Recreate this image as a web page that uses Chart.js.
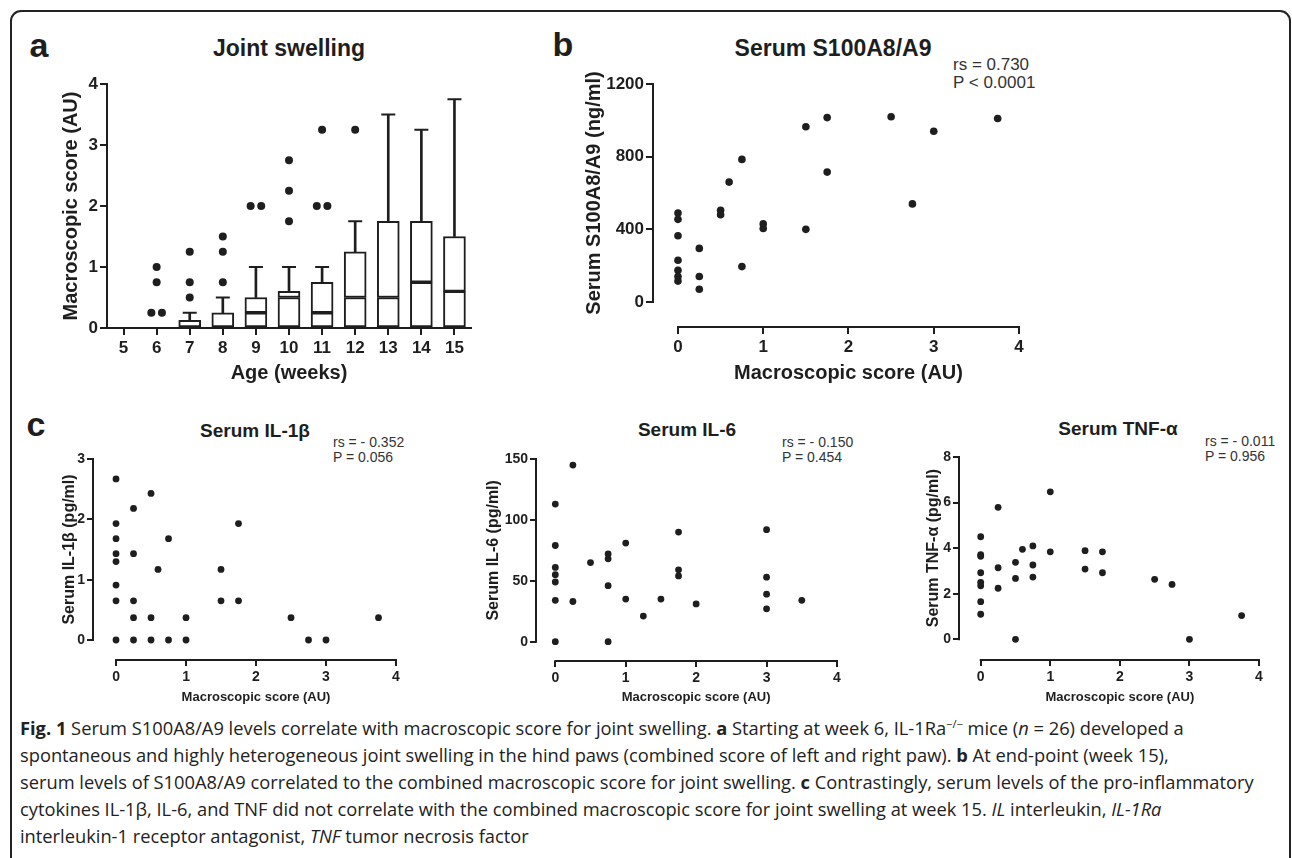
<!DOCTYPE html>
<html><head><meta charset="utf-8">
<script src="https://cdn.jsdelivr.net/npm/chart.js@4.4.0/dist/chart.umd.min.js"></script>
<style>
html,body{margin:0;padding:0;background:#fff;}
body{width:1292px;height:858px;position:relative;overflow:hidden;font-family:"Liberation Sans",Arial,sans-serif;color:#1e1e1e;}
#frame{position:absolute;left:10px;top:10px;width:1281px;height:900px;border:2px solid #222;border-radius:11px;box-sizing:border-box;}
canvas{position:absolute;}
.t{position:absolute;white-space:nowrap;transform:translate(-50%,-50%);font-weight:bold;line-height:1;}
.rs{position:absolute;white-space:nowrap;color:#333;}
.cap{position:absolute;left:20px;font-family:"Open Sans",sans-serif;font-size:18.3px;white-space:nowrap;color:#222;transform:translateY(-50%);line-height:1.2;}
.cap b{font-weight:bold;}
</style></head>
<body>
<div id="frame"></div>

<div class="t" style="left:39px;top:45px;font-size:34px;">a</div>
<div class="t" style="left:563px;top:44px;font-size:34px;">b</div>
<div class="t" style="left:36px;top:424px;font-size:34px;">c</div>

<div class="t" style="left:289px;top:48px;font-size:23px;">Joint swelling</div>
<div class="t" style="left:833px;top:48px;font-size:23px;">Serum S100A8/A9</div>
<div class="t" style="left:255px;top:430px;font-size:19px;">Serum IL-1β</div>
<div class="t" style="left:687px;top:429px;font-size:19px;">Serum IL-6</div>
<div class="t" style="left:1118px;top:428px;font-size:19px;">Serum TNF-α</div>

<div class="rs" style="left:953px;top:56px;font-size:17px;line-height:18px;">rs = 0.730<br>P &lt; 0.0001</div>
<div class="rs" style="left:333px;top:435px;font-size:14px;line-height:15px;">rs = - 0.352<br>P = 0.056</div>
<div class="rs" style="left:782px;top:435px;font-size:14px;line-height:15px;">rs = - 0.150<br>P = 0.454</div>
<div class="rs" style="left:1205px;top:434px;font-size:14px;line-height:15px;">rs = - 0.011<br>P = 0.956</div>

<div class="cap" style="top:728px;"><b>Fig. 1</b> Serum S100A8/A9 levels correlate with macroscopic score for joint swelling. <b>a</b> Starting at week 6, IL-1Ra<sup style="font-size:11px;">−/−</sup> mice (<i>n</i> = 26) developed a</div>
<div class="cap" style="top:755px;">spontaneous and highly heterogeneous joint swelling in the hind paws (combined score of left and right paw). <b>b</b> At end-point (week 15),</div>
<div class="cap" style="top:782px;">serum levels of S100A8/A9 correlated to the combined macroscopic score for joint swelling. <b>c</b> Contrastingly, serum levels of the pro-inflammatory</div>
<div class="cap" style="top:809px;">cytokines IL-1β, IL-6, and TNF did not correlate with the combined macroscopic score for joint swelling at week 15. <i>IL</i> interleukin, <i>IL-1Ra</i></div>
<div class="cap" style="top:836px;">interleukin-1 receptor antagonist, <i>TNF</i> tumor necrosis factor</div>

<script>
// ---------- Panel a: joint swelling by age ----------
const weeks = [5, 6, 7, 8, 9, 10, 11, 12, 13, 14, 15];
const boxQ1 = [null, null, 0, 0, 0, 0, 0, 0, 0, 0, 0];
const boxMedian = [null, null, 0, 0, 0.25, 0.5, 0.25, 0.5, 0.5, 0.75, 0.6];
const boxQ3 = [null, null, 0.125, 0.25, 0.5, 0.6, 0.75, 1.25, 1.75, 1.75, 1.5];
const whiskerMax = [null, null, 0.25, 0.5, 1, 1, 1, 1.75, 3.5, 3.25, 3.75];
const outlierWeek = [5.84, 6.16, 6, 6, 7, 7, 7, 8, 8, 8, 8.84, 9.16, 10, 10, 10, 10.84, 11.16, 11, 12];
const outlierScore = [0.25, 0.25, 0.75, 1, 0.5, 0.75, 1.25, 0.75, 1.25, 1.5, 2, 2, 1.75, 2.25, 2.75, 2, 2, 3.25, 3.25];
const scoreTicksA = [0, 1, 2, 3, 4];

// ---------- Panel b: S100A8/A9 vs score ----------
const bScore = [0, 0, 0, 0, 0, 0, 0, 0.25, 0.25, 0.25, 0.5, 0.5, 0.6, 0.75, 0.75, 1, 1, 1.5, 1.5, 1.75, 1.75, 2.5, 2.75, 3, 3.75];
const bS100 = [490, 455, 365, 230, 175, 140, 115, 295, 140, 70, 505, 480, 660, 785, 195, 430, 405, 965, 400, 1015, 715, 1020, 540, 940, 1010];
const bYTicks = [0, 400, 800, 1200];
const scoreTicks = [0, 1, 2, 3, 4];

// ---------- Panel c1: IL-1beta ----------
const c1Score = [0, 0, 0, 0, 0, 0, 0, 0, 0.25, 0.25, 0.25, 0.25, 0.25, 0.5, 0.5, 0.5, 0.6, 0.75, 0.75, 1, 1, 1.5, 1.5, 1.75, 1.75, 2.5, 2.75, 3, 3.75];
const c1IL1b = [2.67, 1.93, 1.68, 1.43, 1.3, 0.91, 0.65, 0, 2.18, 1.43, 0.65, 0.37, 0, 2.43, 0.37, 0, 1.17, 1.68, 0, 0.37, 0, 1.17, 0.65, 1.93, 0.65, 0.37, 0, 0, 0.37];
const c1YTicks = [0, 1, 2, 3];

// ---------- Panel c2: IL-6 ----------
const c2Score = [0, 0, 0, 0, 0, 0, 0, 0.25, 0.25, 0.5, 0.75, 0.75, 0.75, 0.75, 1, 1, 1.25, 1.5, 1.75, 1.75, 1.75, 2, 3, 3, 3, 3, 3.5];
const c2IL6 = [113, 79, 61, 55, 49, 34, 0, 145, 33, 65, 72, 68, 46, 0, 81, 35, 21, 35, 90, 59, 54, 31, 92, 53, 39, 27, 34];
const c2YTicks = [0, 50, 100, 150];

// ---------- Panel c3: TNF-alpha ----------
const c3Score = [0, 0, 0, 0, 0, 0, 0, 0, 0.25, 0.25, 0.25, 0.5, 0.5, 0.5, 0.6, 0.75, 0.75, 0.75, 1, 1, 1.5, 1.5, 1.75, 1.75, 2.5, 2.75, 3, 3.75];
const c3TNF = [4.5, 3.72, 3.64, 2.92, 2.5, 2.35, 1.65, 1.1, 5.79, 3.14, 2.24, 3.38, 2.67, 0, 3.95, 4.1, 3.26, 2.73, 6.47, 3.84, 3.89, 3.08, 3.84, 2.92, 2.63, 2.41, 0, 1.04];
const c3YTicks = [0, 2, 4, 6, 8];

const FONT = '"Liberation Sans", Arial, sans-serif';
const INK = '#1e1e1e';

const axisDecor = {
  id: 'axisDecor',
  beforeDatasetsDraw(chart, args, o) {
    const {ctx, chartArea: ca, scales: {x, y}} = chart;
    ctx.save();
    ctx.strokeStyle = INK;
    ctx.lineWidth = 2;
    ctx.beginPath();
    ctx.moveTo(ca.left, y.getPixelForValue(o.yRange[0]) + 1);
    ctx.lineTo(ca.left, y.getPixelForValue(o.yRange[1]) - 1);
    ctx.moveTo(x.getPixelForValue(o.xRange[0]) - 1, ca.bottom);
    ctx.lineTo(x.getPixelForValue(o.xRange[1]) + 1, ca.bottom);
    ctx.stroke();
    ctx.restore();
  },
  afterDraw(chart, args, o) {
    const {ctx, chartArea: ca, scales: {x, y}} = chart;
    ctx.save();
    ctx.fillStyle = INK;
    ctx.textAlign = 'center';
    ctx.textBaseline = 'middle';
    ctx.font = 'bold ' + o.xTitleSize + 'px ' + FONT;
    const xc = (x.getPixelForValue(o.xRange[0]) + x.getPixelForValue(o.xRange[1])) / 2;
    ctx.fillText(o.xTitle, xc, ca.bottom + o.xTitleOffset);
    ctx.font = 'bold ' + o.yTitleSize + 'px ' + FONT;
    const yc = (y.getPixelForValue(o.yRange[0]) + y.getPixelForValue(o.yRange[1])) / 2;
    ctx.translate(ca.left - o.yTitleOffset, yc);
    ctx.rotate(-Math.PI / 2);
    ctx.fillText(o.yTitle, 0, 0);
    ctx.restore();
  }
};

function makeChart(area, opt) {
  const yW = opt.yW, xH = opt.xH, padT = 20, padR = 20;
  const left = area.left - yW, top = area.top - padT;
  const w = area.right - left + padR, h = area.bottom - top + xH;
  const cv = document.createElement('canvas');
  cv.width = w; cv.height = h;
  cv.style.left = left + 'px'; cv.style.top = top + 'px';
  cv.style.width = w + 'px'; cv.style.height = h + 'px';
  document.body.appendChild(cv);
  const tickFont = {family: FONT, size: opt.tickSize, weight: 'bold'};
  const grid = {display: true, drawOnChartArea: false, drawTicks: true, tickLength: opt.tickLen, color: INK, lineWidth: 2, offset: false};
  return new Chart(cv, {
    type: opt.type,
    data: {datasets: opt.datasets},
    options: {
      responsive: false, animation: false, devicePixelRatio: 1,
      events: [],
      layout: {padding: {top: padT, right: padR, left: 0, bottom: 0}},
      plugins: {
        legend: {display: false}, tooltip: {enabled: false},
        axisDecor: {
          xRange: opt.xRange, yRange: opt.yRange,
          xTitle: opt.xTitle, yTitle: opt.yTitle,
          xTitleSize: opt.xTitleSize, yTitleSize: opt.yTitleSize,
          xTitleOffset: opt.xTitleOffset, yTitleOffset: opt.yTitleOffset
        }
      },
      scales: {
        x: {
          type: 'linear', min: opt.xMin, max: opt.xMax, offset: false,
          afterBuildTicks: s => { s.ticks = opt.xTicks.map(v => ({value: v})); },
          afterFit: s => { s.height = xH; },
          border: {display: false}, grid,
          ticks: {font: tickFont, color: INK, padding: 3, maxRotation: 0, autoSkip: false, callback: v => String(v)}
        },
        y: {
          type: 'linear', min: opt.yMin, max: opt.yMax,
          afterBuildTicks: s => { s.ticks = opt.yTicks.map(v => ({value: v})); },
          afterFit: s => { s.width = yW; },
          border: {display: false}, grid,
          ticks: {font: tickFont, color: INK, padding: 2, autoSkip: false, callback: v => String(v)}
        }
      }
    },
    plugins: [axisDecor]
  });
}

function dots(xs, ys, r) {
  return {
    type: 'scatter', data: xs.map((v, i) => ({x: v, y: ys[i]})),
    pointRadius: r, pointBackgroundColor: INK, pointBorderWidth: 0, borderColor: INK, clip: false
  };
}

// Panel a
const idx = weeks.map((w, i) => i).filter(i => boxQ3[i] !== null);
makeChart({left: 107, right: 471, top: 84, bottom: 328}, {
  type: 'bar', yW: 90, xH: 62, tickSize: 17, tickLen: 7,
  xMin: 4.5, xMax: 15.5, yMin: 0, yMax: 4,
  xTicks: weeks, yTicks: scoreTicksA,
  xRange: [4.5, 15.5], yRange: [0, 4],
  xTitle: 'Age (weeks)', yTitle: 'Macroscopic score (AU)',
  xTitleSize: 20, yTitleSize: 20, xTitleOffset: 45, yTitleOffset: 36,
  datasets: [
    dots(outlierWeek, outlierScore, 4),
    {type: 'scatter', data: idx.map(i => ({x: weeks[i], y: whiskerMax[i]})), pointStyle: 'line', pointRadius: 7,
      pointBorderWidth: 2, pointBorderColor: INK, borderColor: INK, clip: false},
    {type: 'bar', data: idx.filter(i => boxMedian[i] > boxQ1[i]).map(i => ({x: weeks[i], y: [boxQ1[i], boxMedian[i]]})),
      barThickness: 22, grouped: false, backgroundColor: '#fff', borderColor: INK, borderWidth: 2, borderSkipped: false},
    {type: 'bar', data: idx.map(i => ({x: weeks[i], y: [boxMedian[i], boxQ3[i]]})),
      barThickness: 22, grouped: false, backgroundColor: '#fff', borderColor: INK, borderWidth: 2, borderSkipped: false},
    {type: 'bar', data: idx.map(i => ({x: weeks[i], y: [boxQ3[i], whiskerMax[i]]})),
      barThickness: 2, grouped: false, backgroundColor: INK, borderWidth: 0}
  ]
});

// Panel b
makeChart({left: 653, right: 1019, top: 84, bottom: 327}, {
  type: 'scatter', yW: 95, xH: 62, tickSize: 17, tickLen: 7,
  xMin: -0.293, xMax: 4, yMin: -137.6, yMax: 1200,
  xTicks: scoreTicks, yTicks: bYTicks,
  xRange: [0, 4], yRange: [0, 1200],
  xTitle: 'Macroscopic score (AU)', yTitle: 'Serum S100A8/A9 (ng/ml)',
  xTitleSize: 20, yTitleSize: 20, xTitleOffset: 46, yTitleOffset: 59,
  datasets: [dots(bScore, bS100, 3.8)]
});

// Panel c1
makeChart({left: 93, right: 396, top: 459, bottom: 660}, {
  type: 'scatter', yW: 62, xH: 50, tickSize: 14, tickLen: 6,
  xMin: -0.329, xMax: 4, yMin: -0.3315, yMax: 3,
  xTicks: scoreTicks, yTicks: c1YTicks,
  xRange: [0, 4], yRange: [0, 3],
  xTitle: 'Macroscopic score (AU)', yTitle: 'Serum IL-1β (pg/ml)',
  xTitleSize: 13, yTitleSize: 16, xTitleOffset: 37, yTitleOffset: 23,
  datasets: [dots(c1Score, c1IL1b, 3.4)]
});

// Panel c2
makeChart({left: 536, right: 837, top: 459, bottom: 661}, {
  type: 'scatter', yW: 62, xH: 50, tickSize: 14, tickLen: 6,
  xMin: -0.274, xMax: 4, yMin: -15.85, yMax: 150,
  xTicks: scoreTicks, yTicks: c2YTicks,
  xRange: [0, 4], yRange: [0, 150],
  xTitle: 'Macroscopic score (AU)', yTitle: 'Serum IL-6 (pg/ml)',
  xTitleSize: 13, yTitleSize: 16, xTitleOffset: 36, yTitleOffset: 42,
  datasets: [dots(c2Score, c2IL6, 3.4)]
});

// Panel c3
makeChart({left: 959, right: 1259, top: 457, bottom: 660}, {
  type: 'scatter', yW: 62, xH: 50, tickSize: 14, tickLen: 6,
  xMin: -0.312, xMax: 4, yMin: -0.908, yMax: 8,
  xTicks: scoreTicks, yTicks: c3YTicks,
  xRange: [0, 4], yRange: [0, 8],
  xTitle: 'Macroscopic score (AU)', yTitle: 'Serum TNF-α (pg/ml)',
  xTitleSize: 13, yTitleSize: 16, xTitleOffset: 37, yTitleOffset: 25,
  datasets: [dots(c3Score, c3TNF, 3.4)]
});
</script>
</body></html>
